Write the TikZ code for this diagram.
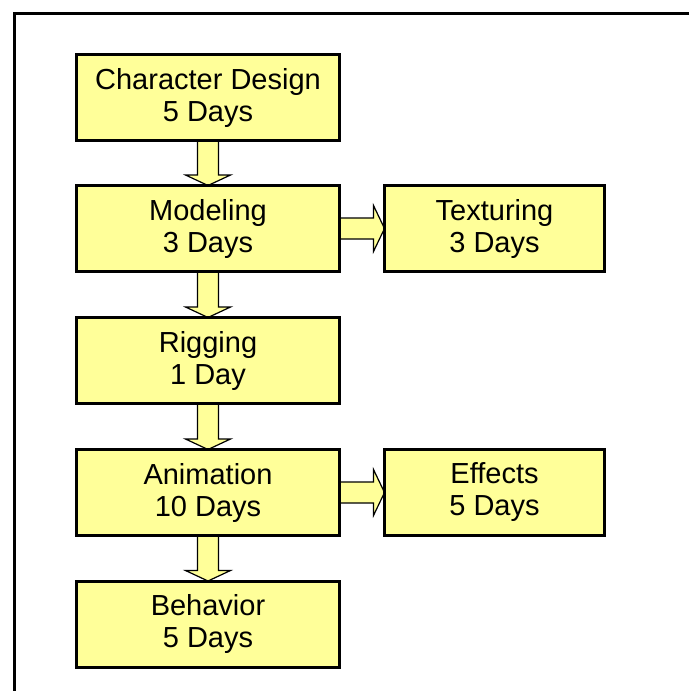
\documentclass[tikz,border=0pt]{standalone}
\usepackage{fontspec}
\setmainfont{Liberation Sans}
\usetikzlibrary{calc,backgrounds}
\definecolor{boxyellow}{HTML}{FFFF99}
\newcommand\downarr[2]{\filldraw[blockarrow] ($(#1.south)+(-10.5,0)$) -- ($(#2.north)+(-10.5,-10.5)$) -- ($(#2.north)+(-22.5,-10.5)$) -- (#2.north) -- ($(#2.north)+(22.5,-10.5)$) -- ($(#2.north)+(10.5,-10.5)$) -- ($(#1.south)+(10.5,0)$);}
\newcommand\rightarr[2]{\filldraw[blockarrow] ($(#1.east)+(0,-10.5)$) -- ($(#2.west)+(-11,-10.5)$) -- ($(#2.west)+(-11,-23)$) -- (#2.west) -- ($(#2.west)+(-11,23)$) -- ($(#2.west)+(-11,10.5)$) -- ($(#1.east)+(0,10.5)$);}
\begin{document}
\begin{tikzpicture}[x=1pt,y=-1pt,
  box/.style={draw=black, line width=3pt, fill=boxyellow, minimum width=263pt, minimum height=86pt, inner sep=0pt, outer sep=0pt, align=center, font=\fontsize{29}{32}\selectfont},
  sidebox/.style={box, minimum width=220pt},
  blockarrow/.style={draw=black, line width=1.2pt, fill=boxyellow, line join=miter},
  frame/.style={draw=black, line width=3pt}]
\useasboundingbox (0,0) rectangle (689,691);
\draw[frame] (689,13) -- (14,13) -- (14,691);
\node[box] (design) at (208,97.5) {Character Design\\5 Days};
\node[box] (model) at (208,228.5) {Modeling\\3 Days};
\node[sidebox] (texture) at (494.5,228.5) {Texturing\\3 Days};
\node[box] (rig) at (208,360.5) {Rigging\\1 Day};
\node[box] (anim) at (208,492.5) {Animation\\10 Days};
\node[sidebox] (fx) at (494.5,492.5) {Effects\\5 Days};
\node[box] (behav) at (208,624) {Behavior\\5 Days};
\begin{pgfonlayer}{background}
\downarr{design}{model}
\downarr{model}{rig}
\downarr{rig}{anim}
\downarr{anim}{behav}
\rightarr{model}{texture}
\rightarr{anim}{fx}
\end{pgfonlayer}
\end{tikzpicture}
\end{document}
